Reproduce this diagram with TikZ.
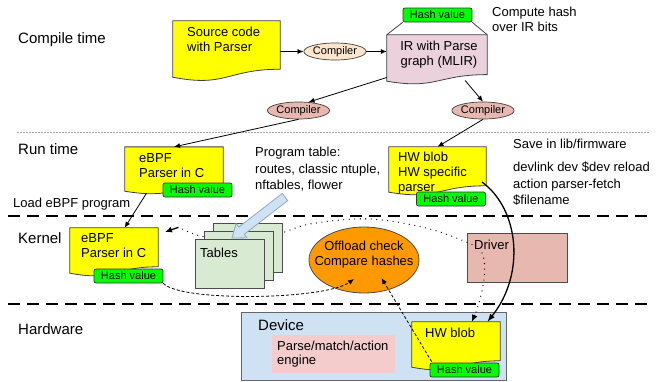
\documentclass[tikz,border=0pt]{standalone}
\usepackage{fontspec}
\setmainfont{Liberation Sans}
\usetikzlibrary{arrows.meta,calc,shapes.geometric}

\definecolor{docyellow}{HTML}{FFFF00}
\definecolor{irpink}{HTML}{EAD1DC}
\definecolor{peach}{HTML}{FCE5CD}
\definecolor{rosybrown}{HTML}{E6B8AF}
\definecolor{hashgreen}{HTML}{00FF00}
\definecolor{tablegreen}{HTML}{D9EAD3}
\definecolor{checkorange}{HTML}{FF9900}
\definecolor{devblue}{HTML}{CFE2F3}
\definecolor{enginepink}{HTML}{F4CCCC}
\definecolor{arrowedge}{HTML}{8EA9C8}

% document shape: rectangle with a wavy bottom edge
\newcommand\wavedoc[2]{%
  \path[docline, fill=#2]
    (#1.north west) -- (#1.north east)
    -- ($(#1.north east)!0.802!(#1.south east)$)
    .. controls ($(#1.north)!0.802!(#1.south)$) and ($(#1.north)!1.107!(#1.south)$)
    .. ($(#1.north west)!0.934!(#1.south west)$) -- cycle;}

\begin{document}
\begin{tikzpicture}[x=1pt,y=-1pt,
  lbl/.style={font=\fontsize{15}{17}\selectfont, inner sep=0pt, anchor=north west},
  txt/.style={font=\fontsize{13}{15}\selectfont, inner sep=0pt, align=left, anchor=north west},
  wide/.style={font=\fontsize{13}{16.4}\selectfont},
  frame/.style={rectangle, inner sep=0pt, draw=none},
  docline/.style={draw=black!75, line width=0.8pt},
  hash/.style={rectangle, rounded corners=2pt, draw=black!80, line width=0.7pt,
    fill=hashgreen, minimum width=69pt, minimum height=14pt, inner sep=0pt,
    font=\fontsize{11}{13}\selectfont},
  comp/.style={ellipse, draw=black!75, line width=0.7pt, minimum width=57pt,
    minimum height=17pt, inner sep=0pt, font=\fontsize{11}{13}\selectfont},
  link/.style={line width=0.8pt, -{Latex[length=6pt,width=5pt]}},
  boldlink/.style={line width=1.3pt, -{Latex[length=8pt,width=6pt]}},
  dots/.style={line width=1.3pt, line cap=round, dash pattern=on 0pt off 5.5pt},
  dashlink/.style={line width=0.8pt, dash pattern=on 3pt off 2pt, -{Latex[length=6pt,width=5pt]}},
  sheet/.style={rectangle, draw=black!70, line width=0.8pt, fill=tablegreen,
    minimum width=69pt, minimum height=49pt, inner sep=0pt},
  layer/.style={line width=2.5pt, dash pattern=on 12pt off 7pt},
]
\useasboundingbox (0,0) rectangle (657,381);

% ---------- layer separators ----------
\draw[gray!70, line width=0.6pt, dash pattern=on 1.5pt off 1.5pt] (17,132) -- (650,132);
\draw[layer] (8,216) -- (650,216);
\draw[layer] (8,304) -- (650,304);

% ---------- layer labels ----------
\node[lbl] (lcompile) at (18,32.5) {Compile time};
\node[lbl] (lrun) at (18,143.5) {Run time};
\node[lbl] (lkernel) at (18,232.5) {Kernel};
\node[lbl] (lhw) at (18,323.5) {Hardware};

% ---------- compile time ----------
\node[frame, minimum width=107pt, minimum height=60pt] (src) at (226.5,51) {};
\wavedoc{src}{docyellow}
\node[txt] (srctxt) at (187,27) {Source code\\with Parser};

\node[comp, fill=peach] (comp1) at (335,51.5) {Compiler};

\node[frame, minimum width=100pt, minimum height=49.3pt] (ir) at (437,59.6) {};
\wavedoc{ir}{irpink}
\node[txt, anchor=north, align=center] (irtxt) at (439,40.5) {IR with Parse\\graph (MLIR)};

\node[hash] (irhash) at (437.5,15) {Hash value};
\draw[black!75, line width=0.8pt] (irhash.south west) -- (ir.north west);
\draw[black!75, line width=0.8pt] (irhash.south east) -- (ir.north east);
\node[txt] (computetxt) at (492,7) {Compute hash\\over IR bits};

\draw[link] (src.east |- comp1.west) -- (comp1.west);
\draw[link] (comp1.east) -- (ir.west |- comp1.east);

\node[comp, fill=rosybrown] (comp2) at (298.5,110.5) {Compiler};
\node[comp, fill=rosybrown] (comp3) at (483,110.5) {Compiler};
\draw[link] ($(ir.north west)!0.86!(ir.south west)$) -- (comp2.40);
\draw[link] ($(ir.south west)!0.78!(ir.south east)+(0,-4)$) -- (comp3.north);

% ---------- run time ----------
\node[frame, minimum width=98pt, minimum height=47.1pt] (ebpfr) at (174,170.6) {};
\wavedoc{ebpfr}{docyellow}
\node[txt] (ebpfrtxt) at (139,153) {eBPF\\Parser in C};
\node[hash] (ebpfrhash) at (197.5,190) {Hash value};

\node[frame, minimum width=97pt, minimum height=48.2pt] (hwr) at (437.5,171.1) {};
\wavedoc{hwr}{docyellow}
\node[txt] (hwrtxt) at (398,152) {HW blob\\HW specific\\parser};
\node[hash] (hwrhash) at (451,199) {Hash value};

\draw[link] (comp2.south) -- (ebpfr.north);
\draw[link] (comp3.south) -- (hwr.north);

\node[txt, wide] (progtxt) at (255,147) {Program table:\\routes, classic ntuple,\\nftables, flower};
\node[txt] (savetxt) at (513,139) {Save in lib/firmware};
\node[txt, wide] (devlinktxt) at (513,162) {devlink dev \$dev reload\\action parser-fetch\\\$filename};
\node[txt] (loadtxt) at (13,198) {Load eBPF program};

% ---------- kernel ----------
\node[frame, minimum width=88pt, minimum height=48.2pt] (ebpfk) at (114,252.1) {};
\wavedoc{ebpfk}{docyellow}
\node[txt] (ebpfktxt) at (81,233) {eBPF\\Parser in C};
\node[hash] (ebpfkhash) at (128.5,276) {Hash value};

\draw[link] ($(ebpfr.south west)!0.22!(ebpfr.south east)+(0,-1)$) -- ($(ebpfk.north west)!0.62!(ebpfk.north east)$);

\node[rectangle, draw=black!70, line width=0.8pt, fill=rosybrown,
  minimum width=100pt, minimum height=49pt, inner sep=0pt] (driver) at (517,257.5) {};
\node[txt] (drivertxt) at (474,240) {Driver};

% dotted feedback from the driver back to the kernel program (passes behind the tables)
\coordinate (drvin) at (472,244.5);
\coordinate (kin) at (165,232);
\draw[dots] plot[smooth, tension=0.6] coordinates
  {(drvin) (430,229) (370,219) (310,224) (270,236) (220,238) (197,235) (178,227)};
\draw[line width=1.3pt, -{Latex[length=7pt,width=6pt]}] (178.5,227.3) -- (kin);

\node[sheet] (tab3) at (247.5,247.5) {};
\node[sheet] (tab2) at (238.5,255.5) {};
\node[sheet] (tables) at (229.5,263.5) {};
\node[txt] (tabtxt) at (200,248) {Tables};

% wide arrow from the program table note onto the tables
\path[draw=arrowedge, line width=0.8pt, fill=devblue, line join=round]
  (287.75,200.56) -- (244.25,234.26) -- (247,237.8) -- (232,238)
  -- (236,223.6) -- (238.75,227.14) -- (282.25,193.44) -- cycle;

\node[ellipse, draw=black!70, line width=0.8pt, fill=checkorange,
  minimum width=110pt, minimum height=66pt, inner sep=0pt] (chk) at (364,260) {};
\node[font=\fontsize{13}{15}\selectfont, align=center, inner sep=0pt] (chktxt) at (364,254.5)
  {Offload check\\Compare hashes};

% ---------- hardware ----------
\node[rectangle, draw=black!60, line width=0.8pt, fill=devblue,
  minimum width=265pt, minimum height=68pt, inner sep=0pt] (device) at (373.5,346) {};
\node[lbl] (devicetxt) at (258,319) {Device};
\node[rectangle, fill=enginepink, text width=113pt, inner xsep=5pt, inner ysep=0pt,
  minimum height=38pt, align=left, anchor=north west,
  font=\fontsize{13}{14}\selectfont] (engine) at (272,335) {Parse/match/action\\engine};

\node[frame, minimum width=88pt, minimum height=48.2pt] (hwd) at (456,346.1) {};
\wavedoc{hwd}{docyellow}
\node[txt] (hwdtxt) at (425,328) {HW blob};
\node[hash] (hwdhash) at (464.5,370) {Hash value};

% ---------- hash comparisons ----------
\coordinate (chkl) at ($(chk.center)+(-10,19)$);
\coordinate (chkr) at ($(chk.center)+(17.5,18)$);
\draw[dashlink] (ebpfkhash.south east) .. controls (180,302) and (325,300) .. (chkl);
\draw[dashlink] ($(hwdhash.north west)+(2,-1)$) -- (chkr);

% ---------- driver and firmware load ----------
\draw[dots] ($(drivertxt.south west)+(8,3)$) .. controls (489,268) and (481,300) .. (474.5,316);
\draw[line width=1.3pt, -{Latex[length=7pt,width=6pt]}] (474.8,315) -- ($(hwd.north west)!0.68!(hwd.north east)$);
\draw[boldlink] (482,182) .. controls (520,210) and (525,275) .. ($(hwd.north west)!0.855!(hwd.north east)$);

\end{tikzpicture}
\end{document}
